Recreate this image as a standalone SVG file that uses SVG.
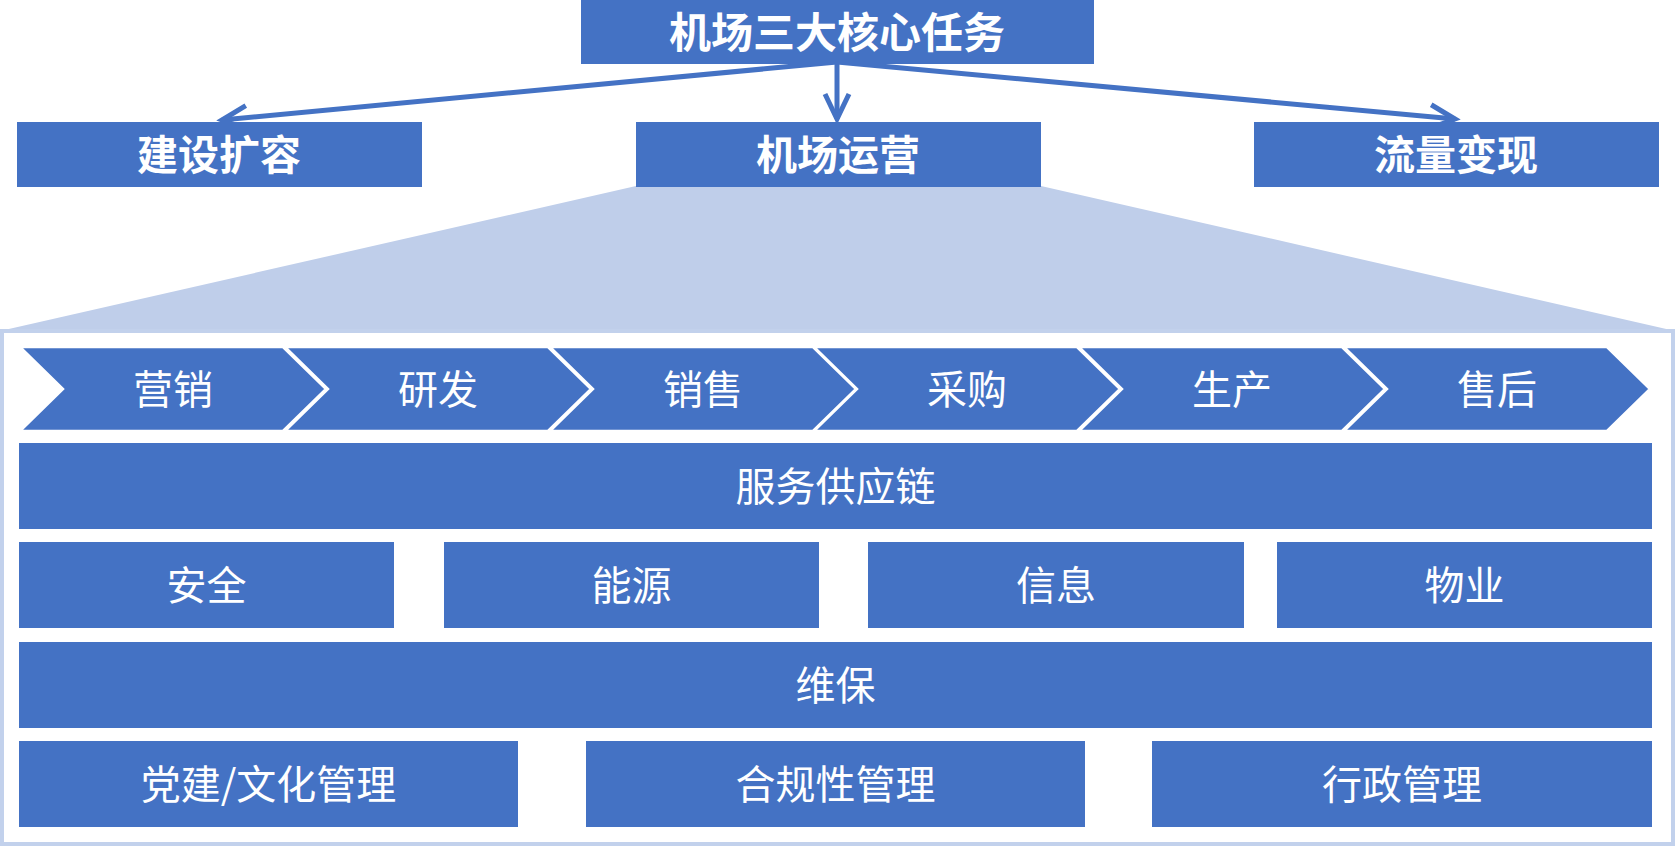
<svg xmlns="http://www.w3.org/2000/svg" width="1677" height="847" viewBox="0 0 1677 847">
<style>
.box{fill:#4472C4}
.chev{fill:#4472C4;stroke:#FFFFFF;stroke-width:2.5;stroke-linejoin:miter}
.t{fill:#FFFFFF;font-family:"Noto Sans CJK SC","Noto Sans",sans-serif;text-anchor:middle}
.tb{font-size:41px;font-weight:bold}
.tn{font-size:40px;font-weight:normal}
.conn{stroke:#4472C4;stroke-width:5;fill:none}
</style>
<defs>
<marker id="arr" markerUnits="userSpaceOnUse" viewBox="-4 -4 34 32" refX="25" refY="12" markerWidth="34" markerHeight="32" orient="auto" overflow="visible">
<path d="M0,0 L25,12 L0,24" fill="none" stroke="#4472C4" stroke-width="5" stroke-linejoin="miter"/>
</marker>
</defs>
<rect width="1677" height="847" fill="#FFFFFF"/>
<g id="zoom-trapezoid">
<polygon points="636,186 1041,186 1675,331 0,331" fill="#BFCEEA"/>
<rect x="2" y="331" width="1671" height="513" fill="#FFFFFF" stroke="#C2D1EC" stroke-width="4"/>
</g>
<g id="connectors">
<line class="conn" x1="837" y1="62" x2="222" y2="120" marker-end="url(#arr)"/>
<line class="conn" x1="837" y1="62" x2="837" y2="119" marker-end="url(#arr)"/>
<line class="conn" x1="837" y1="62" x2="1455" y2="119" marker-end="url(#arr)"/>
</g>
<g id="node-top">
<rect class="box" x="581" y="0" width="513" height="64"/>
<text class="t tb" x="837" y="48" style="font-size:42px">机场三大核心任务</text>
</g>
<g id="node-jianshe">
<rect class="box" x="17" y="122" width="405" height="65"/>
<text class="t tb" x="219" y="170">建设扩容</text>
</g>
<g id="node-yunying">
<rect class="box" x="636" y="122" width="405" height="65"/>
<text class="t tb" x="838" y="170">机场运营</text>
</g>
<g id="node-liuliang">
<rect class="box" x="1254" y="122" width="405" height="65"/>
<text class="t tb" x="1456" y="170">流量变现</text>
</g>
<g id="chev-yingxiao">
<polygon class="chev" points="20,347 283,347 326,389 283,431 20,431 63,389"/>
<text class="t tn" x="173" y="404">营销</text>
</g>
<g id="chev-yanfa">
<polygon class="chev" points="285,347 548,347 591,389 548,431 285,431 328,389"/>
<text class="t tn" x="438" y="404">研发</text>
</g>
<g id="chev-xiaoshou">
<polygon class="chev" points="550,347 813,347 856,389 813,431 550,431 593,389"/>
<text class="t tn" x="703" y="404">销售</text>
</g>
<g id="chev-caigou">
<polygon class="chev" points="814,347 1077,347 1120,389 1077,431 814,431 857,389"/>
<text class="t tn" x="967" y="404">采购</text>
</g>
<g id="chev-shengchan">
<polygon class="chev" points="1079,347 1342,347 1385,389 1342,431 1079,431 1122,389"/>
<text class="t tn" x="1232" y="404">生产</text>
</g>
<g id="chev-shouhou">
<polygon class="chev" points="1344,347 1607,347 1650,389 1607,431 1344,431 1387,389"/>
<text class="t tn" x="1497" y="404">售后</text>
</g>
<g id="node-fuwu">
<rect class="box" x="19" y="443" width="1633" height="86"/>
<text class="t tn" x="835.5" y="501">服务供应链</text>
</g>
<g id="node-anquan">
<rect class="box" x="19" y="542" width="375" height="86"/>
<text class="t tn" x="206.5" y="600">安全</text>
</g>
<g id="node-nengyuan">
<rect class="box" x="444" y="542" width="375" height="86"/>
<text class="t tn" x="631.5" y="600">能源</text>
</g>
<g id="node-xinxi">
<rect class="box" x="868" y="542" width="376" height="86"/>
<text class="t tn" x="1056" y="600">信息</text>
</g>
<g id="node-wuye">
<rect class="box" x="1277" y="542" width="375" height="86"/>
<text class="t tn" x="1464.5" y="600">物业</text>
</g>
<g id="node-weibao">
<rect class="box" x="19" y="642" width="1633" height="86"/>
<text class="t tn" x="835.5" y="700">维保</text>
</g>
<g id="node-dangjian">
<rect class="box" x="19" y="741" width="499" height="86"/>
<text class="t tn" x="268.5" y="799">党建/文化管理</text>
</g>
<g id="node-hegui">
<rect class="box" x="586" y="741" width="499" height="86"/>
<text class="t tn" x="835.5" y="799">合规性管理</text>
</g>
<g id="node-xingzheng">
<rect class="box" x="1152" y="741" width="500" height="86"/>
<text class="t tn" x="1402" y="799">行政管理</text>
</g>
</svg>
